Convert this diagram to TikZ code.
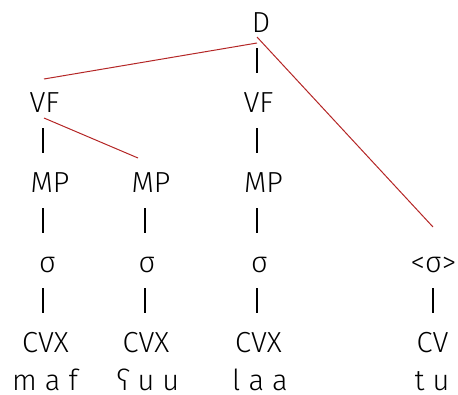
\documentclass[tikz,border=0pt]{standalone}
\usepackage{fontspec}
\usetikzlibrary{calc}
\setmainfont{Fira Sans Light}
\definecolor{linkred}{RGB}{180,38,38}
\begin{document}
\begin{tikzpicture}[x=1pt,y=1pt,
  lab/.style={inner sep=0pt, anchor=base, font=\fontsize{29pt}{34pt}\selectfont},
  bar/.style={draw=black, line width=1.1pt},
  link/.style={draw=linkred, line width=1pt}]
\useasboundingbox (0,0) rectangle (458,-394);

% column positions of the vertical stems
\coordinate (cola) at (43,0);
\coordinate (colb) at (145,0);
\coordinate (colc) at (257,0);
\coordinate (cold) at (433,0);

% top node
\node[lab] (d) at (261,-32) {D};

% VF row
\node[lab] (vfa) at (44.5,-112) {VF};
\node[lab] (vfc) at (258.5,-112) {VF};

% MP row
\node[lab] (mpa) at (50,-192) {MP};
\node[lab] (mpb) at (151,-192) {MP};
\node[lab] (mpc) at (263.5,-192) {MP};

% syllable row
\node[lab] (sa) at (47.5,-272) {σ};
\node[lab] (sb) at (147,-272) {σ};
\node[lab] (sc) at (259.5,-272) {σ};
\node[lab] (sd) at (433.5,-272) {<σ>};

% skeleton row
\node[lab] (ca) at (45.5,-352) {CVX};
\node[lab] (cb) at (146,-352) {CVX};
\node[lab] (cc) at (258.5,-352) {CVX};
\node[lab] (cd) at (432.5,-352) {CV};

% segments
\node[lab] (wa) at (45,-390) {m a f};
\node[lab] (wb) at (148,-390) {ʕ u u};
\node[lab] (wc) at (260,-390) {l a a};
\node[lab] (wd) at (432,-390) {t u};

% vertical stems below each labelled node
\newcommand\stemline[2]{\draw[bar] (#1.base -| #2) ++(0,-16) -- ++(0,-25);}
\stemline{d}{colc}
\stemline{vfa}{cola}
\stemline{vfc}{colc}
\stemline{mpa}{cola}
\stemline{mpb}{colb}
\stemline{mpc}{colc}
\stemline{sa}{cola}
\stemline{sb}{colb}
\stemline{sc}{colc}
\stemline{sd}{cold}

% red association lines
\draw[link] (d.base) ++(-4,-11) -- ($(vfa.base)+(-0.5,33)$);
\draw[link] (d.base) ++(-4,-5) -- ($(sd.base)+(-0.5,45)$);
\draw[link] (vfa.base) ++(-0.5,-6) -- ($(mpb.base)+(-13,34)$);
\end{tikzpicture}
\end{document}
